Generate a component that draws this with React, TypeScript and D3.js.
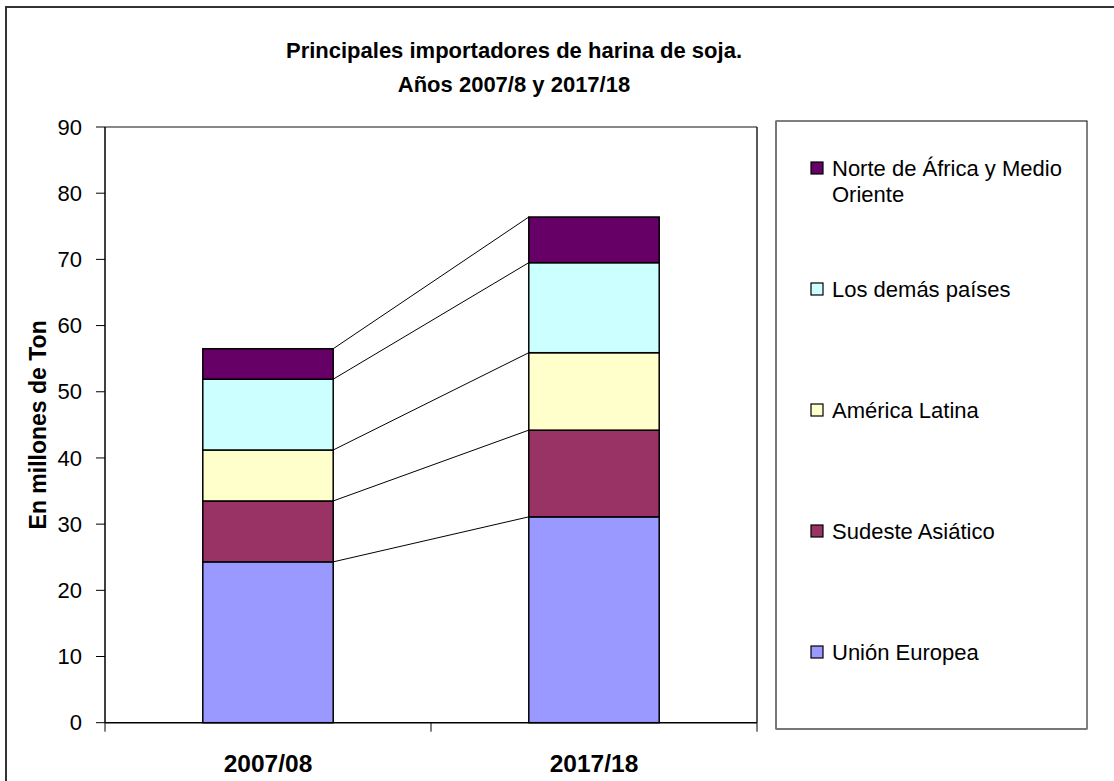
import React from 'react';
import * as d3 from 'd3';

// values, millions of tonnes
const years = ['2007/08', '2017/18'];
const series = ['Unión Europea', 'Sudeste Asiático', 'América Latina', 'Los demás países', 'Norte de África y Medio Oriente'];
const unionEuropea = [24.3, 31.1];
const sudesteAsiatico = [9.2, 13.1];
const americaLatina = [7.7, 11.7];
const demasPaises = [10.7, 13.6];
const norteAfrica = [4.6, 6.9];
const yTicks = [0, 10, 20, 30, 40, 50, 60, 70, 80, 90];
const colors = ['#9999FF', '#993366', '#FFFFCC', '#CCFFFF', '#660066'];
const legendLines: string[][] = [
    ['Unión Europea'],
    ['Sudeste Asiático'],
    ['América Latina'],
    ['Los demás países'],
    ['Norte de África y Medio', 'Oriente'],
];

const font = 'Liberation Sans, Arial, Helvetica, sans-serif';

const App = () => {
    const width = 1114, height = 781;
    const plot = { left: 105, right: 757, top: 127, bottom: 722.7 };

    const rows = years.map((year, i) => ({
        year,
        'Unión Europea': unionEuropea[i],
        'Sudeste Asiático': sudesteAsiatico[i],
        'América Latina': americaLatina[i],
        'Los demás países': demasPaises[i],
        'Norte de África y Medio Oriente': norteAfrica[i],
    }));
    const stacked = d3.stack<any>().keys(series)(rows);

    const x = d3.scaleBand().domain(years).range([plot.left, plot.right]).paddingInner(0.6).paddingOuter(0.3);
    const y = d3.scaleLinear().domain([0, 90]).range([plot.bottom, plot.top]);
    const bw = x.bandwidth();
    const step = x.step();

    // legend items from bottom (first series) to top
    const legendY = d3.scaleLinear().domain([0, 4]).range([652, 168]);

    return (
        <svg width={width} height={height} style={{ position: 'absolute', left: 0, top: 0, background: '#fff' }} fontFamily={font}>
            <rect x={6} y={7} width={width + 20} height={height + 20} fill="#fff" stroke="#333" strokeWidth={2} />

            <text x={514} y={58} textAnchor="middle" fontWeight="bold" fontSize={22}>Principales importadores de harina de soja.</text>
            <text x={514} y={92} textAnchor="middle" fontWeight="bold" fontSize={22}>Años 2007/8 y 2017/18</text>

            {/* plot area frame */}
            <line x1={plot.left} x2={plot.right} y1={plot.top} y2={plot.top} stroke="#888" strokeWidth={2} />
            <line x1={plot.right} x2={plot.right} y1={plot.top} y2={plot.bottom} stroke="#222" strokeWidth={1.5} />

            {/* series connector lines */}
            {stacked.map((s, si) => (
                <line key={'c' + si}
                    x1={(x(years[0]) as number) + bw} y1={y(s[0][1])}
                    x2={x(years[1]) as number} y2={y(s[1][1])}
                    stroke="#000" strokeWidth={1} />
            ))}

            {/* bars */}
            {stacked.map((s, si) => s.map((d, di) => (
                <rect key={si + '-' + di}
                    x={x(years[di])} y={y(d[1])} width={bw} height={y(d[0]) - y(d[1])}
                    fill={colors[si]} stroke="#000" strokeWidth={1.5} />
            )))}

            {/* y axis */}
            <line x1={plot.left} x2={plot.left} y1={plot.top} y2={plot.bottom} stroke="#000" strokeWidth={1.5} />
            {yTicks.map(t => (
                <g key={t}>
                    <line x1={plot.left - 9} x2={plot.left} y1={y(t)} y2={y(t)} stroke="#000" strokeWidth={1} />
                    <text x={82} y={y(t)} dy="0.35em" textAnchor="end" fontSize={22}>{t}</text>
                </g>
            ))}
            <text transform={`translate(38,${(plot.top + plot.bottom) / 2}) rotate(-90)`} textAnchor="middle" dy="0.35em" fontWeight="bold" fontSize={23}>En millones de Ton</text>

            {/* x axis */}
            <line x1={plot.left} x2={plot.right} y1={plot.bottom} y2={plot.bottom} stroke="#000" strokeWidth={1.5} />
            {d3.range(years.length + 1).map(i => (
                <line key={'t' + i} x1={plot.left + i * step} x2={plot.left + i * step} y1={plot.bottom} y2={plot.bottom + 9} stroke="#000" strokeWidth={1} />
            ))}
            {years.map(yr => (
                <text key={yr} x={(x(yr) as number) + bw / 2} y={772} textAnchor="middle" fontWeight="bold" fontSize={24.5}>{yr}</text>
            ))}

            {/* legend */}
            <rect x={776} y={121} width={311} height={608} fill="#fff" stroke="#000" strokeWidth={1} />
            <line x1={776} x2={776} y1={121} y2={729} stroke="#777" strokeWidth={2} />
            <line x1={776} x2={1087} y1={729} y2={729} stroke="#777" strokeWidth={2} />
            {series.map((name, i) => (
                <g key={name}>
                    <rect x={811} y={legendY(i) - 6} width={12} height={12} fill={colors[i]} stroke="#000" strokeWidth={1.2} />
                    {legendLines[i].map((ln, li) => (
                        <text key={li} x={832} y={legendY(i) + li * 26} dy="0.35em" fontSize={22}>{ln}</text>
                    ))}
                </g>
            ))}
        </svg>
    );
};

export default App;
